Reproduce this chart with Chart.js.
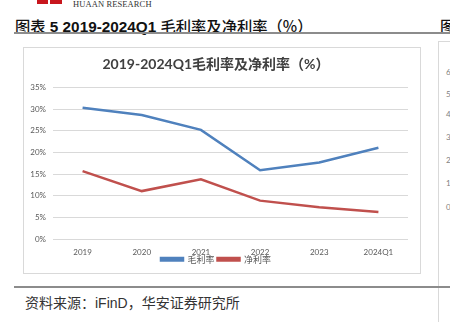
<!DOCTYPE html>
<html>
<head>
<meta charset="utf-8">
<script src="https://cdn.jsdelivr.net/npm/chart.js@4.4.1/dist/chart.umd.min.js"></script>
<style>
  html, body { margin: 0; padding: 0; background: #fff; }
  #page { position: relative; width: 450px; height: 322px; overflow: hidden; background: #fff; }
  .abs { position: absolute; white-space: nowrap; }
  #logo { left: 37px; top: -10px; width: 25px; height: 14px; background: #c8161d; }
  #logo::after { content: ""; position: absolute; left: 11px; top: 0; width: 2px; height: 14px; background: #fff; }
  #brand { left: 73px; top: -1px; font: 8.5px "Liberation Serif", serif; color: #333; letter-spacing: 0.1px; }
  #mainTitle { left: 15px; top: 14px; font-size: 15.3px; color: #111; font-family: "Liberation Sans", "Noto Sans CJK SC", sans-serif; }
  #mainTitle .cjk { font-family: "Noto Sans CJK SC", sans-serif; font-weight: 500; }
  #mainTitle .lat { font-weight: bold; }
  #rightTitle { left: 440px; top: 14px; font-size: 15.3px; font-family: "Noto Sans CJK SC", sans-serif; font-weight: 500; color: #111; }
  #rule1 { left: 14px; top: 32px; width: 436px; height: 2px; background: #8c8c8c; }
  #rule2 { left: 14px; top: 286px; width: 436px; height: 2px; background: #8c8c8c; }
  #source { left: 25px; top: 292px; font-size: 14px; color: #333; font-family: "Noto Sans CJK SC", sans-serif; }
  #source .lat { font-family: "Liberation Sans", sans-serif; }
  #box { left: 23px; top: 47px; width: 396px; height: 225px; border: 1px solid #d9d9d9; }
  #box canvas { position: absolute; left: 0; top: 0; }
  #rbox { left: 438px; top: 41px; width: 40px; height: 300px; border-left: 1px solid #d9d9d9; border-top: 1px solid #d9d9d9; }
  .rt { position: absolute; left: 446px; font: 8px Lato, sans-serif; color: #7f7f7f; }
</style>
</head>
<body>
<div id="page">
  <div id="logo" class="abs"></div>
  <div id="brand" class="abs">HUAAN RESEARCH</div>
  <div id="mainTitle" class="abs"><span class="cjk">图表</span><span class="lat"> 5 2019-2024Q1 </span><span class="cjk">毛利率及净利率（%）</span></div>
  <div id="rightTitle" class="abs">图</div>
  <div id="rule1" class="abs"></div>
  <div id="rbox" class="abs"></div>
  <div class="rt" style="top:67px">6</div>
  <div class="rt" style="top:89px">5</div>
  <div class="rt" style="top:109px">4</div>
  <div class="rt" style="top:132px">3</div>
  <div class="rt" style="top:155px">2</div>
  <div class="rt" style="top:178px">1</div>
  <div class="rt" style="top:202px">0</div>
  <div id="box" class="abs"><canvas id="c" width="396" height="225"></canvas></div>
  <div id="rule2" class="abs"></div>
  <div id="source" class="abs">资料来源：<span class="lat">iFinD</span>，华安证券研究所</div>
</div>
<script>
const categories = ["2019", "2020", "2021", "2022", "2023", "2024Q1"];
const grossMargin = [30.3, 28.6, 25.2, 15.9, 17.7, 21.1];
const netMargin = [15.7, 11.1, 13.8, 8.9, 7.4, 6.3];
const seriesNames = ["毛利率", "净利率"];
const chartTitle = "2019-2024Q1毛利率及净利率（%）";
const yTicks = [0, 5, 10, 15, 20, 25, 30, 35];

const legendShift = {
  id: "legendShift",
  afterLayout(chart) {
    const lg = chart.legend;
    if (lg) {
      const h = lg.height;
      lg.top = 203.8;
      lg.bottom = 203.8 + h;
    }
    const xs = chart.scales.x;
    if (xs) {
      xs.bottom = chart.height;
      xs.height = xs.bottom - xs.top;
    }
  }
};

new Chart(document.getElementById("c"), {
  type: "line",
  data: {
    labels: categories,
    datasets: [
      { label: seriesNames[0], data: grossMargin, borderColor: "#4f81bd", backgroundColor: "#4f81bd", borderWidth: 2.5, pointRadius: 0, tension: 0 },
      { label: seriesNames[1], data: netMargin, borderColor: "#c0504d", backgroundColor: "#c0504d", borderWidth: 2.5, pointRadius: 0, tension: 0 }
    ]
  },
  options: {
    responsive: false,
    animation: false,
    devicePixelRatio: 1,
    layout: { padding: { left: 0, right: 12, top: 0, bottom: 0 } },
    plugins: {
      title: {
        display: true,
        text: chartTitle,
        color: "#404040",
        font: { family: "Lato, 'Noto Sans CJK SC', sans-serif", size: 14, weight: "bold" },
        padding: { top: 8, bottom: 14.5 }
      },
      legend: {
        display: true,
        position: "bottom",
        labels: {
          color: "#595959",
          font: { family: "'Noto Sans CJK SC', sans-serif", size: 9 },
          boxWidth: 22,
          boxHeight: 2.5,
          padding: 3
        }
      },
      tooltip: { enabled: false }
    },
    scales: {
      x: {
        offset: true,
        afterFit(scale) {
          const lh = scale.chart.legend ? scale.chart.legend.height : 0;
          scale.height = Math.max(0, 33.7 - lh);
        },
        grid: { display: false, drawTicks: false },
        border: { display: false },
        ticks: { color: "#595959", font: { family: "Lato, sans-serif", size: 8 }, padding: 8, maxRotation: 0 }
      },
      y: {
        min: 0,
        max: 35,
        afterFit(scale) { scale.width = 29; },
        afterBuildTicks(scale) { scale.ticks = yTicks.map(v => ({ value: v })); },
        grid: { color: "#d9d9d9", lineWidth: 1, drawTicks: false },
        border: { display: false },
        ticks: { color: "#595959", font: { family: "Lato, sans-serif", size: 8 }, padding: 7, callback: v => v + "%" }
      }
    }
  },
  plugins: [legendShift]
});
</script>
</body>
</html>
